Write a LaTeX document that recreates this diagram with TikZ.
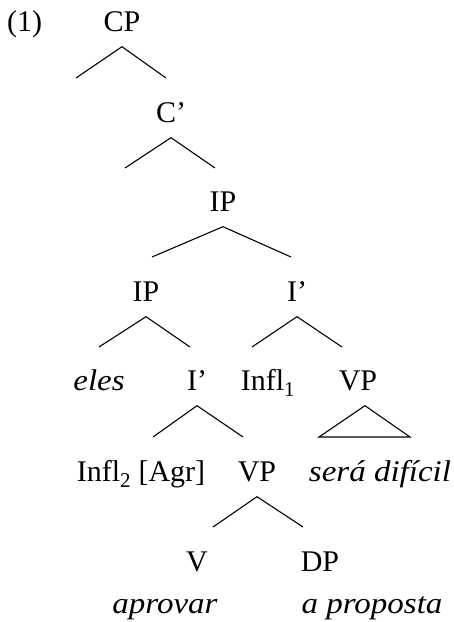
\documentclass[tikz,border=0pt]{standalone}
\usepackage{fontspec}
\setmainfont{Liberation Serif}[ItalicFeatures={FakeStretch=1.1}]
\begin{document}
\begin{tikzpicture}[x=1pt, y=1pt,
    lab/.style={anchor=base, inner xsep=0pt, inner ysep=14.5pt, text depth=0pt,
        font=\fontsize{30}{35}\selectfont},
    br/.style={line width=1.1pt}]
    \useasboundingbox (0,0) rectangle (454,622);
    \node[lab, anchor=base west] (ex) at (7,590) {(1)};
    \node[lab] (cp) at (122,590) {CP};
    \node[lab] (cbar) at (171,499) {C’};
    \node[lab] (ip) at (223,410) {IP};
    \node[lab] (ipL) at (146,320) {IP};
    \node[lab] (ibar) at (297,320) {I’};
    \node[lab] (eles) at (99,231) {\itshape eles};
    \node[lab] (ibarL) at (197,231) {I’};
    \node[lab] (infl1) at (268,231) {Infl\textsubscript{1}};
    \node[lab] (vp1) at (358,231) {VP};
    \node[lab] (infl2) at (141,140) {Infl\textsubscript{2} [Agr]};
    \node[lab] (vp2) at (257,140) {VP};
    \node[lab] (sera) at (380,140) {\itshape será difícil};
    \node[lab] (v) at (197,50) {V};
    \node[lab] (dp) at (320,50) {DP};
    \node[lab] (aprovar) at (165,9) {\itshape aprovar};
    \node[lab] (proposta) at (372,9) {\itshape a proposta};
    \coordinate (cp-l) at (76,544);
    \coordinate (cp-r) at (166,544);
    \coordinate (cbar-l) at (125,454);
    \coordinate (cbar-r) at (215,454);
    \coordinate (ip-l) at (152,365);
    \coordinate (ip-r) at (291,365);
    \coordinate (ipL-l) at (99,275);
    \coordinate (ipL-r) at (190,275);
    \coordinate (ibar-l) at (252,275);
    \coordinate (ibar-r) at (342,275);
    \coordinate (ibarL-l) at (153,185);
    \coordinate (ibarL-r) at (243,185);
    \coordinate (vp1-l) at (319,185);
    \coordinate (vp1-r) at (410,185);
    \coordinate (vp2-l) at (213,95);
    \coordinate (vp2-r) at (303,95);
    \draw[br] (cp-l) -- (cp.south) -- (cp-r);
    \draw[br] (cbar-l) -- (cbar.south) -- (cbar-r);
    \draw[br] (ip-l) -- (ip.south) -- (ip-r);
    \draw[br] (ipL-l) -- (ipL.south) -- (ipL-r);
    \draw[br] (ibar-l) -- (ibar.south) -- (ibar-r);
    \draw[br] (ibarL-l) -- (ibarL.south) -- (ibarL-r);
    \draw[br] (vp1-l) -- ([xshift=7pt]vp1.south) -- (vp1-r) -- cycle;
    \draw[br] (vp2-l) -- (vp2.south) -- (vp2-r);
\end{tikzpicture}
\end{document}
